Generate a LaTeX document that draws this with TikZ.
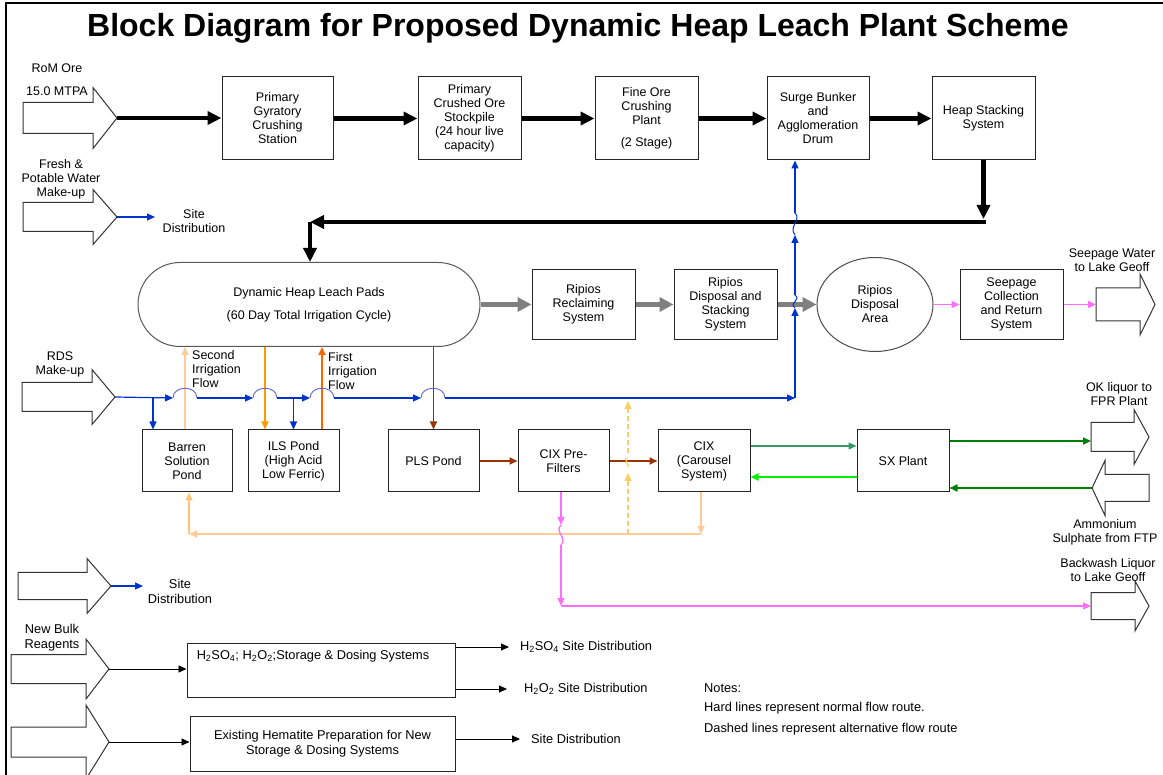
\documentclass[tikz,border=0pt]{standalone}
\usepackage{fontspec}
\setmainfont{Liberation Sans}
\usetikzlibrary{arrows.meta,shapes.geometric}
\definecolor{fblue}{RGB}{0,51,204}
\definecolor{hopblue}{RGB}{100,100,210}
\definecolor{peach}{RGB}{255,204,153}
\definecolor{peach2}{RGB}{255,196,120}
\definecolor{forange}{RGB}{255,153,0}
\definecolor{fored}{RGB}{255,102,0}
\definecolor{fbrown}{RGB}{153,51,0}
\definecolor{fpink}{RGB}{255,110,255}
\definecolor{dorange}{RGB}{255,204,102}
\definecolor{fteal}{RGB}{51,153,102}
\definecolor{fbright}{RGB}{0,240,0}
\definecolor{fdark}{RGB}{0,128,0}
\definecolor{fgrey}{RGB}{128,128,128}
\newcommand\myrblk[7]{%
  \draw[barrow] (#1,#4-#5) -- (#2,#4-#5) -- (#2,#4-#6) -- (#3,#4) -- (#2,#4+#6) -- (#2,#4+#5) -- (#1,#4+#5) -- cycle;
  \coordinate (#7-tip) at (#3,#4);
  \coordinate (#7-tail) at (#1,#4);}
\newcommand\mylblk[7]{%
  \draw[barrow] (#3,#4-#5) -- (#2,#4-#5) -- (#2,#4-#6) -- (#1,#4) -- (#2,#4+#6) -- (#2,#4+#5) -- (#3,#4+#5) -- cycle;
  \coordinate (#7-tip) at (#1,#4);}
\begin{document}
\begin{tikzpicture}[x=1pt,y=-1pt,
  every node/.style={font=\fontsize{12.5}{14}\selectfont, inner sep=0pt},
  barrow/.style={draw=black!80, line width=1pt, fill=white, line join=miter},
  blk/.style={draw=black!85, line width=1pt, fill=white, align=center, inner sep=0pt},
  small/.style={font=\fontsize{12.8}{15}\selectfont},
  atip/.style={-{Triangle[length=8pt,width=7pt]}},
  mainflow/.style={line width=4.5pt, -{Triangle[length=14pt,width=13pt]}},
  gflow/.style={fgrey, line width=5pt, -{Triangle[length=14pt,width=14pt]}},
  bflow/.style={fblue, line width=1.2pt, atip},
  hopln/.style={hopblue, line width=0.9pt},
  bwig/.style={fblue, line width=1pt},
  pflow/.style={line width=1.8pt, atip},
  kflow/.style={black, line width=0.9pt, atip},
  pkflow/.style={fpink, line width=1.3pt, atip},
  rflow/.style={peach, line width=1.6pt, atip},
  dflow/.style={dorange, line width=1.4pt, dash pattern=on 5pt off 3pt, atip}
]
\useasboundingbox (0,0) rectangle (1163,775);
\draw[line width=1.2pt] (6,780) -- (6,3) -- (1170,3);

\node[font=\fontsize{32}{36}\selectfont\bfseries] (title) at (578,28) {Block Diagram for Proposed Dynamic Heap Leach Plant Scheme};

% ---------- block arrows ----------
\myrblk{23}{93}{117}{118}{15.5}{30.5}{rom}
\myrblk{23}{93}{117}{217}{14.5}{27.5}{fw}
\myrblk{22}{92}{115}{397}{14.5}{27.5}{rds}
\myrblk{18}{87}{111}{586}{13.5}{27.5}{sd}
\myrblk{11}{86}{109}{669}{14.5}{30}{nb}
\myrblk{11}{86}{109}{742}{15}{37}{hm}
\myrblk{1096}{1140}{1155}{304.5}{16.5}{30.5}{sw}
\myrblk{1091}{1134}{1149}{437}{14.5}{27.5}{ok}
\myrblk{1091}{1135}{1149}{606}{13.5}{25}{bw}
\mylblk{1092}{1105}{1149}{488}{13.5}{27.5}{am}

% ---------- labels ----------
\node (lrom1) at (57,68) {RoM Ore};
\node (lrom2) at (57,91) {15.0 MTPA};
\node[align=center] (lfw) at (61,179) {Fresh \&\\Potable Water\\Make-up};
\node[align=center] (lsd1) at (194,221.5) {Site\\Distribution};
\node[align=center] (lrds) at (60,364) {RDS\\Make-up};
\node[align=left, anchor=west] (l2nd) at (192,369) {Second\\Irrigation\\Flow};
\node[align=left, anchor=west] (l1st) at (328,371) {First\\Irrigation\\Flow};
\node[align=center] (lsw) at (1112,260) {Seepage Water\\to Lake Geoff};
\node[align=center] (lok) at (1119,394) {OK liquor to\\FPR Plant};
\node[align=center] (lam) at (1105,532) {Ammonium\\Sulphate from FTP};
\node[align=center] (lbw) at (1108,570) {Backwash Liquor\\to Lake Geoff};

% ---------- top boxes ----------
\node[blk, minimum width=111pt, minimum height=83pt] (b1) at (277.5,118.5) {Primary\\Gyratory\\Crushing\\Station};
\node[blk, minimum width=103pt, minimum height=83pt] (b2) at (469.5,118.5) {Primary\\Crushed Ore\\Stockpile\\(24 hour live\\capacity)};
\node[blk, minimum width=103pt, minimum height=83pt] (b3) at (646.5,118.5) {Fine Ore\\Crushing\\Plant\\[8pt](2 Stage)};
\node[blk, minimum width=102pt, minimum height=83pt] (b4) at (818,118.5) {Surge Bunker\\and\\Agglomeration\\Drum};
\node[blk, minimum width=103pt, minimum height=83pt] (b5) at (983.5,118.5) {Heap Stacking\\System};

% ---------- middle row ----------
\node[blk, draw=black!65, rounded corners=42pt, minimum width=342pt, minimum height=84pt] (pad) at (309,304.5) {Dynamic Heap Leach Pads\\[9pt](60 Day Total Irrigation Cycle)};
\node[blk, minimum width=103pt, minimum height=70pt] (rrs) at (583.5,304.5) {Ripios\\Reclaiming\\System};
\node[blk, minimum width=103pt, minimum height=70pt] (rdsb) at (725.5,304.5) {Ripios\\Disposal and\\Stacking\\System};
\node[blk, draw=black!70, ellipse, minimum width=116pt, minimum height=94pt] (ripa) at (875,304.5) {Ripios\\Disposal\\Area};
\node[blk, minimum width=103pt, minimum height=70pt] (seep) at (1011.5,304.5) {Seepage\\Collection\\and Return\\System};

% ---------- ponds row ----------
\node[blk, minimum width=90pt, minimum height=62pt] (barren) at (187,461) {Barren\\Solution\\Pond};
\node[blk, minimum width=91pt, minimum height=62pt] (ils) at (293.5,461) {ILS Pond\\(High Acid\\Low Ferric)};
\node[blk, minimum width=91pt, minimum height=62pt] (pls) at (433.5,461) {PLS Pond};
\node[blk, minimum width=91pt, minimum height=62pt] (cixpre) at (563.5,461) {CIX Pre-\\Filters};
\node[blk, minimum width=92pt, minimum height=62pt] (cix) at (704,461) {CIX\\(Carousel\\System)};
\node[blk, minimum width=92pt, minimum height=62pt] (sx) at (903,461) {SX Plant};

% ---------- bottom boxes ----------
\node[blk, minimum width=268pt, minimum height=54pt] (h2) at (321,670) {};
\node[small] (h2t) at (313,656) {H\textsubscript{2}SO\textsubscript{4}; H\textsubscript{2}O\textsubscript{2};Storage \& Dosing Systems};
\node[blk, small, minimum width=265pt, minimum height=55pt] (hem) at (322.5,743.5) {Existing Hematite Preparation for New\\Storage \& Dosing Systems};
\node[small, align=center] (lsd2) at (180,591) {Site\\Distribution};
\node[small, align=center] (lnb) at (52,638) {New Bulk\\Reagents};
\node[small, anchor=west] (o1t) at (520,647) {H\textsubscript{2}SO\textsubscript{4} Site Distribution};
\node[small, anchor=west] (o2t) at (524,689) {H\textsubscript{2}O\textsubscript{2} Site Distribution};
\node[small, anchor=west] (o3t) at (531,739) {Site Distribution};
\node[small, anchor=west] (n1) at (704,688) {Notes:};
\node[small, anchor=west] (n2) at (704,708) {Hard lines represent normal flow route.};
\node[small, anchor=west] (n3) at (704,729) {Dashed lines represent alternative flow route};

% ---------- coordinates ----------
\coordinate (hs1) at (983.5,219);
\coordinate (hr) at (985.75,222);
\coordinate (hl) at (310,222);
\coordinate (fwend) at (155,217);
\coordinate (sdend) at (143,586);
\coordinate (j1) at (153,398);
\coordinate (j2) at (293.5,398);
\coordinate (bc) at (795,398);
\coordinate (xa) at (185,0);
\coordinate (xb) at (265,0);
\coordinate (xc) at (322,0);
\coordinate (xd) at (433.5,0);
\coordinate (r1) at (701,534);
\coordinate (r2) at (189,534);
\coordinate (d1) at (628,534);
\coordinate (d2) at (628,473);
\coordinate (d3) at (628,453);
\coordinate (d4) at (628,401);
\coordinate (p1) at (561,525);
\coordinate (p2) at (561,545);
\coordinate (p3) at (561,606);
\coordinate (gA) at (0,446);
\coordinate (gB) at (0,477);
\coordinate (gC) at (0,441);
\coordinate (o1) at (509,647);
\coordinate (o2) at (507,689);
\coordinate (o3) at (520,739);

% ---------- main ore flow ----------
\draw[mainflow] (rom-tip) -- (b1.west |- rom-tip);
\draw[mainflow] (b1.east) -- (b2.west);
\draw[mainflow] (b2.east) -- (b3.west);
\draw[mainflow] (b3.east) -- (b4.west);
\draw[mainflow] (b4.east) -- (b5.west);
\draw[mainflow] (b5.south) -- (hs1);
\draw[mainflow] (hr) -- (hl);
\draw[mainflow] (hl) -- (pad.north -| hl);

% ---------- grey ripios flow ----------
\draw[gflow] (pad.east) -- (rrs.west);
\draw[gflow] (rrs.east) -- (rdsb.west);
\draw[gflow] (rdsb.east) -- (ripa.west);

% ---------- pink seepage ----------
\draw[pkflow] (ripa.east) -- (seep.west);
\draw[pkflow] (seep.east) -- (sw-tail);

% ---------- fresh water / site distribution ----------
\draw[bflow] (fw-tip) -- (fwend);
\draw[bflow] (sd-tip) -- (sdend);

% ---------- irrigation verticals ----------
\draw[pflow, peach] (barren.north -| xa) -- (pad.south -| xa);
\draw[pflow, forange] (pad.south -| xb) -- (ils.north -| xb);
\draw[pflow, fored] (ils.north -| xc) -- (pad.south -| xc);
\draw[pflow, fbrown] (pad.south -| xd) -- (pls.north -| xd);

% ---------- RDS blue line with hops ----------
\draw[bflow] (rds-tip) -- (173,398);
\draw[hopln] (173,398) .. controls (173,385) and (197,385) .. (197,398);
\draw[bflow] (197,398) -- (253,398);
\draw[hopln] (253,398) .. controls (253,385) and (277,385) .. (277,398);
\draw[bflow] (277,398) -- (310,398);
\draw[hopln] (310,398) .. controls (310,385) and (334,385) .. (334,398);
\draw[bflow] (334,398) -- (421,398);
\draw[hopln] (421,398) .. controls (421,385) and (445,385) .. (445,398);
\draw[bflow] (445,398) -- (bc);
\draw[bflow] (j1) -- (barren.north -| j1);
\draw[bflow] (j2) -- (ils.north -| j2);
\draw[bflow] (bc) -- (795,308);
\draw[bwig] (795,308) .. controls (788,303) and (802,300) .. (795,295);
\draw[bflow] (795,295) -- (795,235);
\draw[bwig] (795,235) .. controls (788,227) and (802,219) .. (795,213);
\draw[bflow] (795,213) -- (b4.south -| bc);

% ---------- PLS to CIX ----------
\draw[pflow, fbrown] (pls.east) -- (cixpre.west);
\draw[pflow, fbrown] (cixpre.east) -- (cix.west);

% ---------- return liquor to barren pond ----------
\draw[rflow] (cix.south -| r1) -- (r1);
\draw[rflow] (r1) -- (r2);
\draw[rflow, peach2] (r2) -- (barren.south -| r2);

% ---------- dashed alternative ----------
\draw[dflow] (d1) -- (d2);
\draw[dorange, line width=1.4pt] (625.5,458) -- (628.5,467);
\draw[dflow] (d3) -- (d4);

% ---------- pink backwash ----------
\draw[pkflow] (cixpre.south -| p1) -- (p1);
\draw[fpink, line width=1.3pt] (p1) .. controls (554,531) and (568,539) .. (p2);
\draw[pkflow] (p2) -- (p3);
\draw[pkflow] (p3) -- (p3 -| bw-tail);

% ---------- green SX flows ----------
\draw[fteal, line width=1.4pt, atip] (cix.east |- gA) -- (sx.west |- gA);
\draw[fbright, line width=1.8pt, atip] (sx.west |- gB) -- (cix.east |- gB);
\draw[fdark, line width=1.6pt, atip] (sx.east |- gC) -- (ok-tail |- gC);
\draw[fdark, line width=1.6pt, atip] (am-tip) -- (sx.east |- am-tip);

% ---------- reagents ----------
\draw[kflow] (nb-tip) -- (h2.west |- nb-tip);
\draw[kflow] (h2.east |- o1) -- (o1);
\draw[kflow] (h2.east |- o2) -- (o2);
\draw[kflow] (hm-tip) -- (hem.west |- hm-tip);
\draw[kflow] (hem.east |- o3) -- (o3);
\end{tikzpicture}
\end{document}
